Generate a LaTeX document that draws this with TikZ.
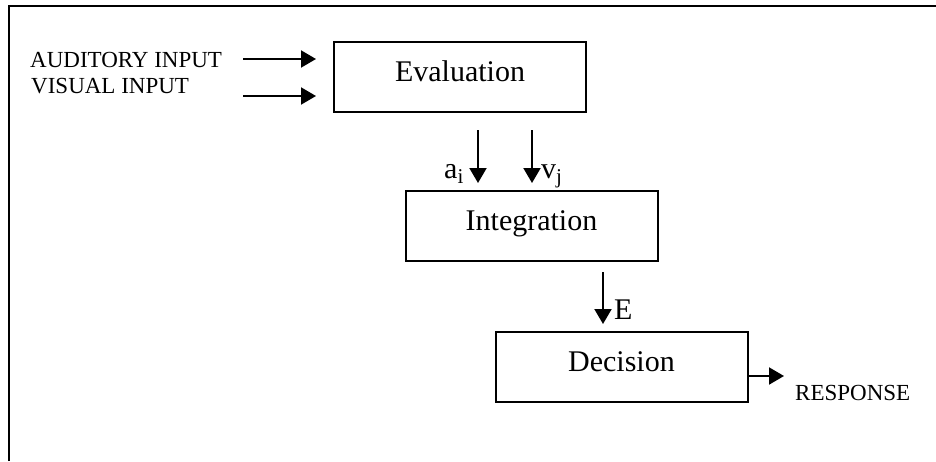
\documentclass[tikz,border=0pt]{standalone}
\usepackage{fontspec}
\setmainfont{Liberation Serif}
\usetikzlibrary{arrows.meta}
\begin{document}
\begin{tikzpicture}[x=1pt,y=-1pt,
  stagebox/.style={draw,line width=2pt,minimum width=252pt,minimum height=70pt,inner sep=0pt},
  stagetext/.style={anchor=base,inner sep=0pt,font=\fontsize{30}{32}\selectfont},
  smalltext/.style={anchor=base west,inner sep=0pt,font=\fontsize{23}{25}\selectfont},
  symtext/.style={anchor=base west,inner sep=0pt,font=\fontsize{30}{32}\selectfont},
  arr/.style={line width=2pt,-{Triangle[length=15pt,width=17pt]}}]
\useasboundingbox (0,0) rectangle (936,461);
% outer frame (only top and left visible)
\draw[line width=2.2pt] (9,461) -- (9,6) -- (940,6);
% boxes
\node[stagebox] (eval) at (460,77) {};
\node[stagetext] (evaltxt) at (460,81) {Evaluation};
\node[stagebox] (integ) at (531.5,226) {};
\node[stagetext] (integtxt) at (531.5,230) {Integration};
\node[stagebox] (dec) at (621.5,367) {};
\node[stagetext] (dectxt) at (621.5,371) {Decision};
% input labels
\node[smalltext] (aud) at (30,67) {AUDITORY INPUT};
\node[smalltext] (vis) at (31,93) {VISUAL INPUT};
\coordinate (audS) at (243,59);
\coordinate (audT) at (316,59);
\coordinate (visS) at (243,96);
\coordinate (visT) at (316,96);
\draw[arr] (audS) -- (audT);
\draw[arr] (visS) -- (visT);
% a_i and v_j
\coordinate (aS) at (478,130);
\coordinate (aT) at (478,183);
\coordinate (vS) at (532,130);
\coordinate (vT) at (532,183);
\draw[arr] (aS) -- (aT);
\draw[arr] (vS) -- (vT);
\node[symtext] (alab) at (444,178) {a\textsubscript{i}};
\node[symtext] (vlab) at (541,178) {v\textsubscript{j}};
% E
\coordinate (eS) at (603,272);
\coordinate (eT) at (603,324);
\draw[arr] (eS) -- (eT);
\node[symtext] (elab) at (614,319) {E};
% response
\coordinate (rT) at (784,376);
\draw[arr] (dec.east |- rT) -- (rT);
\node[smalltext] (resp) at (795,400) {RESPONSE};
\end{tikzpicture}
\end{document}
